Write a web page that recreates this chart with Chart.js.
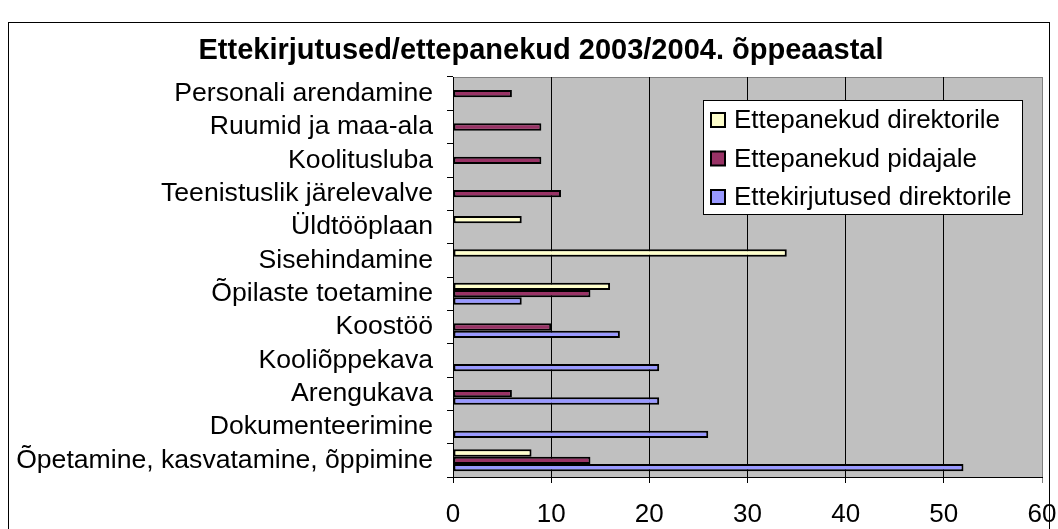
<!DOCTYPE html>
<html>
<head>
<meta charset="utf-8">
<script src="https://cdn.jsdelivr.net/npm/chart.js@4/dist/chart.umd.min.js"></script>
<style>
  html, body { margin: 0; padding: 0; background: #fff; }
  #wrap { position: relative; width: 1058px; height: 529px; overflow: hidden; }
  #frame { position: absolute; left: 8px; top: 22px; width: 1042px; height: 560px; border: 1.5px solid #000; box-sizing: border-box; }
  canvas { position: absolute; left: 0; top: 0; }
</style>
</head>
<body>
<div id="wrap">
  <div id="frame"></div>
  <canvas id="c" width="1058" height="529"></canvas>
</div>
<script>
const chartTitle = "Ettekirjutused/ettepanekud 2003/2004. õppeaastal";
const categories = [
  "Personali arendamine",
  "Ruumid ja maa-ala",
  "Koolitusluba",
  "Teenistuslik järelevalve",
  "Üldtööplaan",
  "Sisehindamine",
  "Õpilaste toetamine",
  "Koostöö",
  "Kooliõppekava",
  "Arengukava",
  "Dokumenteerimine",
  "Õpetamine, kasvatamine, õppimine"
];
const seriesNames = ["Ettepanekud direktorile", "Ettepanekud pidajale", "Ettekirjutused direktorile"];
const ettepanekudDirektorile = [null, null, null, null, 7, 34, 16, null, null, null, null, 8];
const ettepanekudPidajale   = [6, 9, 9, 11, null, null, 14, 10, null, 6, null, 14];
const ettekirjutusedDirektorile = [null, null, null, null, null, null, 7, 17, 21, 21, 26, 52];
const xTicks = [0, 10, 20, 30, 40, 50, 60];
const seriesColors = ["#FFFFCC", "#993366", "#9999FF"];

const FONT = "'Liberation Sans', Arial, sans-serif";

const bgPlugin = {
  id: 'bg',
  beforeDraw(chart) {
    const {ctx, chartArea: a} = chart;
    ctx.save();
    ctx.fillStyle = '#C0C0C0';
    ctx.fillRect(a.left, a.top, a.right - a.left, a.bottom - a.top);
    ctx.strokeStyle = '#808080';
    ctx.lineWidth = 1;
    ctx.beginPath();
    ctx.moveTo(a.left, a.top + 0.5);
    ctx.lineTo(a.right, a.top + 0.5);
    ctx.stroke();
    ctx.restore();
  },
  afterDraw(chart) {
    const {ctx} = chart;
    ctx.save();
    // title
    ctx.fillStyle = '#000';
    ctx.font = "bold 29px " + FONT;
    ctx.textAlign = 'center';
    ctx.textBaseline = 'middle';
    ctx.fillText(chartTitle, 541, 51);
    // legend
    const lx = 703, ly = 100, lw = 319, lh = 114;
    ctx.fillStyle = '#fff';
    ctx.fillRect(lx, ly, lw, lh);
    ctx.strokeStyle = '#000';
    ctx.lineWidth = 1;
    ctx.strokeRect(lx + 0.5, ly + 0.5, lw, lh);
    ctx.font = "26px " + FONT;
    ctx.textAlign = 'left';
    chart.data.datasets.forEach((ds, i) => {
      const cy = 120 + i * 38.5;
      ctx.fillStyle = ds.backgroundColor;
      ctx.fillRect(711, cy - 7, 14, 14);
      ctx.lineWidth = 2;
      ctx.strokeStyle = '#000';
      ctx.strokeRect(711, cy - 7, 14, 14);
      ctx.fillStyle = '#000';
      ctx.fillText(ds.label, 734, cy + 1);
    });
    ctx.restore();
  }
};

new Chart(document.getElementById('c'), {
  type: 'bar',
  data: {
    labels: categories,
    datasets: [
      { label: seriesNames[0], data: ettepanekudDirektorile, backgroundColor: seriesColors[0] },
      { label: seriesNames[1], data: ettepanekudPidajale, backgroundColor: seriesColors[1] },
      { label: seriesNames[2], data: ettekirjutusedDirektorile, backgroundColor: seriesColors[2] }
    ].map(d => Object.assign(d, { borderColor: '#000', borderWidth: 2, borderSkipped: false, categoryPercentage: 0.66, barPercentage: 1.0 }))
  },
  options: {
    indexAxis: 'y',
    responsive: false,
    animation: false,
    layout: { padding: { top: 77, right: 16, left: 0, bottom: 0 } },
    plugins: { legend: { display: false }, title: { display: false }, tooltip: { enabled: false } },
    scales: {
      x: {
        min: 0, max: 60,
        afterBuildTicks(scale) { scale.ticks = xTicks.map(v => ({ value: v })); },
        afterFit(scale) { scale.height = 52; scale.paddingLeft = 0; scale.paddingRight = 0; },
        grid: {
          color: (c) => c.tick && c.tick.value === 60 ? '#808080' : '#000',
          lineWidth: 1,
          tickLength: 6,
          drawTicks: true
        },
        border: { display: true, color: '#000', width: 1 },
        ticks: { color: '#000', font: { family: FONT, size: 26 }, padding: 16 }
      },
      y: {
        afterFit(scale) { scale.width = 453; scale.paddingTop = 0; scale.paddingBottom = 0; },
        grid: { drawOnChartArea: false, color: '#000', tickLength: 6, offset: true },
        border: { display: true, color: '#000', width: 1 },
        ticks: { color: '#000', font: { family: FONT, size: 26.6 }, padding: 14, autoSkip: false }
      }
    }
  },
  plugins: [bgPlugin]
});
</script>
</body>
</html>
